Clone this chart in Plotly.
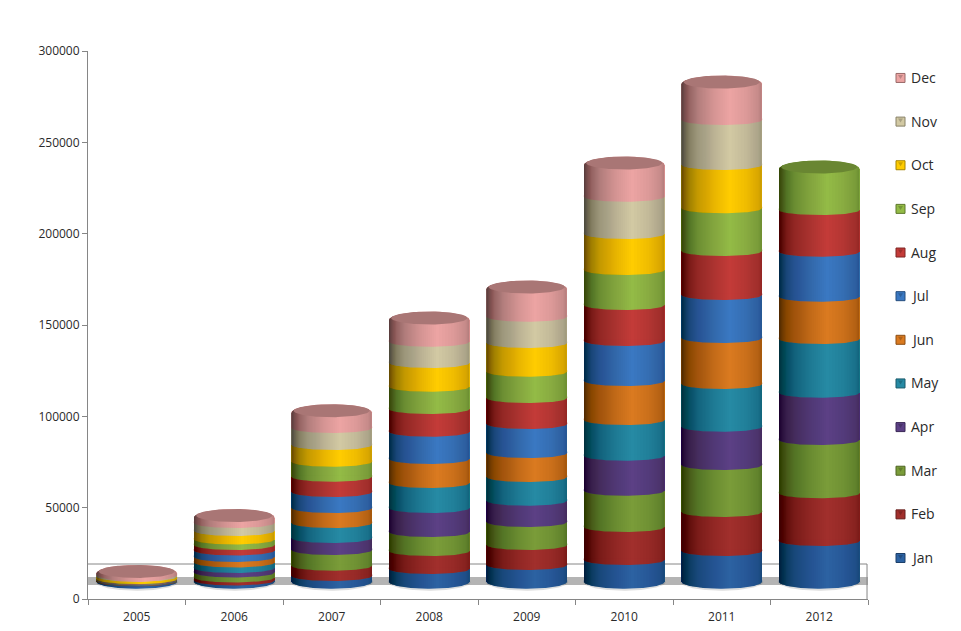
import numpy as np
import plotly.graph_objects as go

years = ["2005", "2006", "2007", "2008", "2009", "2010", "2011", "2012"]
months = ["Jan", "Feb", "Mar", "Apr", "May", "Jun", "Jul", "Aug", "Sep", "Oct", "Nov", "Dec"]
colors = ["#2C62A2", "#A12F2C", "#7A9C39", "#5C4085", "#268AA4", "#DA7A20",
          "#3A78C2", "#C33B38", "#93BB46", "#FFCC00", "#D2C9A3", "#ECA4A3"]

jan = [170, 660, 3120, 6950, 9140, 11880, 16800, 22280]
feb = [160, 1640, 5640, 9850, 10950, 18060, 21350, 26110]
mar = [180, 2740, 8590, 10400, 12590, 19870, 25730, 29180]
apr = [170, 2460, 6570, 13140, 11660, 19160, 20970, 25890]
may = [170, 3010, 8210, 13690, 12970, 19540, 23370, 29400]
jun = [170, 3010, 8210, 13140, 13140, 21350, 25180, 23160]
jul = [180, 3560, 8760, 14940, 15870, 21900, 23540, 24630]
aug = [160, 3010, 8380, 12430, 14230, 19710, 24090, 22830]
sep = [170, 3010, 8210, 12210, 14400, 19160, 23370, 22440]
oct_ = [1200, 4650, 9140, 12970, 15710, 19710, 23700, None]
nov = [900, 4380, 9310, 11660, 14400, 20420, 24630, None]
dec = [900, 3010, 8380, 11880, 15160, 17350, 19700, None]
series = [jan, feb, mar, apr, may, jun, jul, aug, sep, oct_, nov, dec]

W, H = 961, 631
L_PX, R_PX, T_PX, B_PX = 88, 868, 51, 599
VAL_PER_PX = 300000 / (B_PX - T_PX)
BASE_PX = 581.7                       # where the cylinders' value 0 sits
Y2_LOW = -(B_PX - BASE_PX) * VAL_PER_PX
BAR_W = 0.83
HW = BAR_W / 2
DROOP = 5 * VAL_PER_PX
BASE_DROOP = 7 * VAL_PER_PX
CAP = 8.5 * VAL_PER_PX
AXIS = "#868686"
TEXT = "#2A2A2A"
FONT = "Open Sans"
LEGEND_JAN_PX, LEGEND_STEP_PX = 558.0, 43.64


def dim(hex_c, f):
    r, g, b = int(hex_c[1:3], 16), int(hex_c[3:5], 16), int(hex_c[5:7], 16)
    return f"rgb({int(r*f)},{int(g*f)},{int(b*f)})"


def half(u):
    return np.sqrt(np.clip(1 - u ** 2, 0, 1))


fig = go.Figure()

# stacked bodies
for i, m in enumerate(months):
    fig.add_trace(go.Bar(x=list(range(len(years))), y=series[i], name=m, legendgroup=m, showlegend=False,
                         width=BAR_W, marker=dict(color=colors[i], line=dict(width=0)),
                         xaxis="x", yaxis="y2"))

totals, tops = [], []
bases = [[None] * 8 for _ in months]
for j in range(8):
    t, top = 0, 0
    for i in range(12):
        v = series[i][j]
        if v is not None:
            bases[i][j] = t
            t += v
            top = i
    totals.append(t)
    tops.append(top)

U = np.linspace(-1, 1, 61)


def add_poly(xs, ys, color, group=None):
    fig.add_trace(go.Scatter(x=xs, y=ys, mode="lines", fill="toself", fillcolor=color,
                             line=dict(width=0), hoverinfo="skip", showlegend=False,
                             legendgroup=group, xaxis="x", yaxis="y2"))


# soft shadow under each cylinder
xs, ys = [], []
for j in range(8):
    hw = HW * 1.03
    xs += list(j + U * hw) + [None]
    ys += list(-half(U) * (BASE_DROOP + 2 * VAL_PER_PX)) + [None]
add_poly(xs, ys, "rgba(90,90,90,0.2)")

# curved lower edge of every stacked segment, painted from Jan upwards
for i, m in enumerate(months):
    d = BASE_DROOP if i == 0 else DROOP
    xs, ys = [], []
    for j in range(8):
        if bases[i][j] is None:
            continue
        lift = min(1.5 * VAL_PER_PX, series[i][j])
        xs += [j - HW] + list(j + U * HW) + [j + HW, None]
        ys += [bases[i][j] + lift] + list(bases[i][j] - half(U) * d) + [bases[i][j] + lift, None]
    add_poly(xs, ys, colors[i], m)

# rim of the cap (light)
xs_by_color = {}
for j in range(8):
    th = np.linspace(0, 2 * np.pi, 121)
    c = colors[tops[j]]
    px = xs_by_color.setdefault(c, ([], []))
    px[0].extend(list(j + HW * np.cos(th)) + [None])
    px[1].extend(list(totals[j] + CAP * np.sin(th)) + [None])
for c, (xs, ys) in xs_by_color.items():
    add_poly(xs, ys, c)

# cylinder shading: nested translucent layers avoid seams between strips
PROFILE_U = [0.0, 0.04, 0.1, 0.2, 0.4, 0.6, 0.8, 0.95, 1.0]
PROFILE_F = [0.45, 0.56, 0.68, 0.79, 0.91, 1.0, 0.94, 0.86, 0.78]


def layer_polys(u0, u1):
    xs, ys = [], []
    seg = np.linspace(u0, u1, 40) * 2 - 1
    for j in range(8):
        xs += list(j + seg * HW) + list(j + seg[::-1] * HW) + [None]
        ys += list(-half(seg) * BASE_DROOP) + list(totals[j] + half(seg[::-1]) * CAP) + [None]
    return xs, ys


STEP = 0.012
for side in ("left", "right"):
    if side == "left":
        uu, ff = np.array(PROFILE_U[:6]), np.array(PROFILE_F[:6])
    else:
        uu, ff = np.array(PROFILE_U[5:]), np.array(PROFILE_F[5:])
    lf = np.log(ff)
    depth = -lf.min()
    n = int(np.ceil(depth / STEP))
    step = depth / n
    alpha = 1 - np.exp(-step)
    for k in range(n):
        target = -depth + (k + 0.5) * step
        if side == "left":
            t = np.interp(target, lf, uu)
            xs, ys = layer_polys(0, t)
        else:
            t = np.interp(target, lf[::-1], uu[::-1])
            xs, ys = layer_polys(t, 1)
        add_poly(xs, ys, f"rgba(0,0,0,{alpha:.4f})")

# dark inner face of the cap
for c in set(colors[t] for t in tops):
    xs, ys = [], []
    for j in range(8):
        if colors[tops[j]] != c:
            continue
        th = np.linspace(0, 2 * np.pi, 121)
        xs += list(j + HW * 0.94 * np.cos(th)) + [None]
        ys += list(totals[j] + 2 * VAL_PER_PX + 6.5 * VAL_PER_PX * np.sin(th)) + [None]
    add_poly(xs, ys, dim(c, 0.72))

shapes = [
    dict(type="rect", layer="below", xref="x", yref="y", x0=-0.5, x1=7.5,
         y0=(B_PX - 585) * VAL_PER_PX, y1=(B_PX - 577) * VAL_PER_PX,
         fillcolor="#B4B4B4", line=dict(width=0)),
    dict(type="line", layer="below", xref="x", yref="y", x0=-0.5, x1=7.49,
         y0=(B_PX - 564) * VAL_PER_PX, y1=(B_PX - 564) * VAL_PER_PX, line=dict(color=AXIS, width=1)),
    dict(type="line", layer="below", xref="x", yref="y", x0=7.49, x1=7.49,
         y0=0, y1=(B_PX - 564) * VAL_PER_PX, line=dict(color=AXIS, width=1)),
]

# key at the right, Dec on top
annotations = []
px_x = lambda p: (p - L_PX) / (R_PX - L_PX)
px_y = lambda p: (B_PX - p) / (B_PX - T_PX)
for i, m in enumerate(months):
    cy = LEGEND_JAN_PX - i * LEGEND_STEP_PX
    shapes.append(dict(type="rect", xref="paper", yref="paper", x0=px_x(896), x1=px_x(905),
                       y0=px_y(cy + 4.5), y1=px_y(cy - 4.5), fillcolor=colors[i],
                       line=dict(color=dim(colors[i], 0.65), width=1)))
    shapes.append(dict(type="path", xref="paper", yref="paper",
                       path=f"M{px_x(898)},{px_y(cy - 3)} L{px_x(903)},{px_y(cy - 3)} L{px_x(900.5)},{px_y(cy + 1)} Z",
                       fillcolor=dim(colors[i], 0.8), line=dict(width=0)))
    annotations.append(dict(text=m, xref="paper", yref="paper", x=px_x(909), y=px_y(cy - 0.5),
                            xanchor="left", yanchor="middle", showarrow=False,
                            font=dict(family=FONT, size=14, color=TEXT)))

fig.update_layout(
    width=W, height=H, autosize=False,
    margin=dict(l=L_PX, r=W - R_PX, t=T_PX, b=H - B_PX, pad=0, autoexpand=False),
    paper_bgcolor="white", plot_bgcolor="white",
    barmode="stack",
    font=dict(family=FONT, color=TEXT, size=12),
    shapes=shapes, annotations=annotations,
    showlegend=False,
    xaxis=dict(range=[-0.5, 7.5], tickmode="array", tickvals=list(range(8)), ticktext=years, automargin=False,
               ticks="", showgrid=False, zeroline=False, showline=True, linecolor=AXIS, linewidth=1,
               tickfont=dict(family=FONT, size=12, color=TEXT), ticklabelstandoff=7,
               minor=dict(tickmode="array", tickvals=[i - 0.5 for i in range(9)], ticks="outside",
                          ticklen=5, tickcolor=AXIS, tickwidth=1, showgrid=False)),
    yaxis=dict(range=[0, 300000], tickmode="array", tickvals=[0, 50000, 100000, 150000, 200000, 250000, 300000],
               ticks="outside", ticklen=5, tickcolor=AXIS, tickwidth=1, showgrid=False, zeroline=False,
               showline=True, linecolor=AXIS, linewidth=1, tickformat="d", automargin=False,
               tickfont=dict(family=FONT, size=12, color=TEXT)),
    yaxis2=dict(range=[Y2_LOW, Y2_LOW + 300000], overlaying="y", side="left", visible=False, automargin=False),
)

fig.write_html("out.html", config={"displayModeBar": False},
               post_script="document.body.style.margin='0';document.body.style.overflow='hidden';")
